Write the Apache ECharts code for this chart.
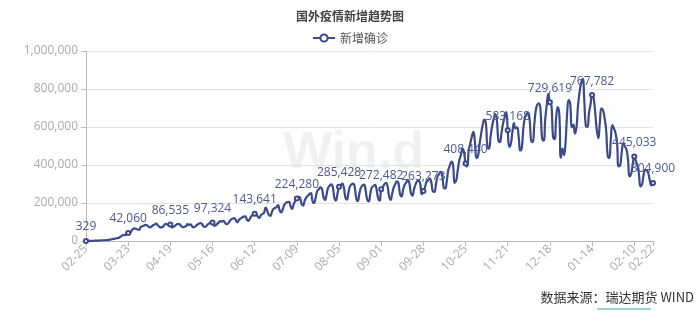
<!DOCTYPE html>
<html>
<head>
<meta charset="utf-8">
<script src="https://cdn.jsdelivr.net/npm/echarts@6/dist/echarts.min.js"></script>
<style>html,body{margin:0;padding:0;background:#fff}#c{width:700px;height:315px}</style>
</head>
<body>
<div id="c"></div>
<script>
var titleText = '国外疫情新增趋势图';
var seriesName = '新增确诊';
var sourceText = '数据来源：瑞达期货 WIND';

// daily categories 2020-02-25 .. 2021-02-22 (MM-DD)
var categories = [
'02-25','02-26','02-27','02-28','02-29','03-01','03-02','03-03','03-04','03-05','03-06','03-07','03-08','03-09',
'03-10','03-11','03-12','03-13','03-14','03-15','03-16','03-17','03-18','03-19','03-20','03-21','03-22','03-23',
'03-24','03-25','03-26','03-27','03-28','03-29','03-30','03-31','04-01','04-02','04-03','04-04','04-05','04-06',
'04-07','04-08','04-09','04-10','04-11','04-12','04-13','04-14','04-15','04-16','04-17','04-18','04-19','04-20',
'04-21','04-22','04-23','04-24','04-25','04-26','04-27','04-28','04-29','04-30','05-01','05-02','05-03','05-04',
'05-05','05-06','05-07','05-08','05-09','05-10','05-11','05-12','05-13','05-14','05-15','05-16','05-17','05-18',
'05-19','05-20','05-21','05-22','05-23','05-24','05-25','05-26','05-27','05-28','05-29','05-30','05-31','06-01',
'06-02','06-03','06-04','06-05','06-06','06-07','06-08','06-09','06-10','06-11','06-12','06-13','06-14','06-15',
'06-16','06-17','06-18','06-19','06-20','06-21','06-22','06-23','06-24','06-25','06-26','06-27','06-28','06-29',
'06-30','07-01','07-02','07-03','07-04','07-05','07-06','07-07','07-08','07-09','07-10','07-11','07-12','07-13',
'07-14','07-15','07-16','07-17','07-18','07-19','07-20','07-21','07-22','07-23','07-24','07-25','07-26','07-27',
'07-28','07-29','07-30','07-31','08-01','08-02','08-03','08-04','08-05','08-06','08-07','08-08','08-09','08-10',
'08-11','08-12','08-13','08-14','08-15','08-16','08-17','08-18','08-19','08-20','08-21','08-22','08-23','08-24',
'08-25','08-26','08-27','08-28','08-29','08-30','08-31','09-01','09-02','09-03','09-04','09-05','09-06','09-07',
'09-08','09-09','09-10','09-11','09-12','09-13','09-14','09-15','09-16','09-17','09-18','09-19','09-20','09-21',
'09-22','09-23','09-24','09-25','09-26','09-27','09-28','09-29','09-30','10-01','10-02','10-03','10-04','10-05',
'10-06','10-07','10-08','10-09','10-10','10-11','10-12','10-13','10-14','10-15','10-16','10-17','10-18','10-19',
'10-20','10-21','10-22','10-23','10-24','10-25','10-26','10-27','10-28','10-29','10-30','10-31','11-01','11-02',
'11-03','11-04','11-05','11-06','11-07','11-08','11-09','11-10','11-11','11-12','11-13','11-14','11-15','11-16',
'11-17','11-18','11-19','11-20','11-21','11-22','11-23','11-24','11-25','11-26','11-27','11-28','11-29','11-30',
'12-01','12-02','12-03','12-04','12-05','12-06','12-07','12-08','12-09','12-10','12-11','12-12','12-13','12-14',
'12-15','12-16','12-17','12-18','12-19','12-20','12-21','12-22','12-23','12-24','12-25','12-26','12-27','12-28',
'12-29','12-30','12-31','01-01','01-02','01-03','01-04','01-05','01-06','01-07','01-08','01-09','01-10','01-11',
'01-12','01-13','01-14','01-15','01-16','01-17','01-18','01-19','01-20','01-21','01-22','01-23','01-24','01-25',
'01-26','01-27','01-28','01-29','01-30','01-31','02-01','02-02','02-03','02-04','02-05','02-06','02-07','02-08',
'02-09','02-10','02-11','02-12','02-13','02-14','02-15','02-16','02-17','02-18','02-19','02-20','02-21','02-22'
];

var newCases = [
329,460,620,880,1120,1250,1690,
2010,2230,2650,3810,3900,4010,4250,
4840,7020,8010,10150,11230,13280,15360,
16420,22180,27350,32140,31280,34650,42060,
41230,51460,62380,66120,64350,60180,58960,
73420,77350,80160,85240,83410,76280,71350,
76420,83150,87260,91380,82450,75160,71240,
73580,83210,90150,86420,82360,86535,72150,
75230,80410,86320,90150,88260,78140,72350,
75180,78260,88350,85140,87420,76280,72150,
76380,85420,89160,94230,92150,79340,74260,
78150,87320,94260,98150,97324,80260,82340,
90150,98340,104260,102380,106420,96150,88260,
92350,104260,114380,118150,120340,108260,98420,
112350,118420,124150,128360,130260,112480,106350,
118420,132150,136280,143641,140260,128350,122180,
136150,142380,148260,176420,160150,138260,132480,
152360,168420,174150,178360,188420,160250,150180,
168350,190260,200150,205480,206230,182150,168420,
194260,210380,224280,232150,228420,196350,186240,
212450,228160,238420,246350,252180,210260,200150,
228350,262180,272460,282150,276420,232150,216480,
244360,280150,290420,298260,284150,228360,212480,
248150,285428,294260,302180,284350,232150,218260,
252480,288150,298260,302480,286150,226340,210260,
248160,280350,292180,296240,268150,218360,208150,
248260,282180,288350,296150,272480,226350,212180,
272482,284150,298260,306180,290150,236480,216350,
248180,282460,298150,314260,306180,248150,234260,
268350,296180,306420,322150,304260,252180,238460,
272150,298460,314260,318150,298420,246180,263273,
282460,312150,318420,330260,312180,262480,258150,
296180,338460,352150,364280,350420,282150,276480,
318260,376150,398420,418160,400350,306180,318260,
372150,424360,452180,486420,468150,408440,392180,
474260,512180,548350,574260,520150,436180,448260,
512460,566180,612350,638420,620150,498260,486350,
548180,604260,642350,668480,640150,532180,520350,
568260,618350,650180,678420,583168,496260,512180,
574180,620350,592260,598480,548150,476260,492180,
594350,648260,668420,676180,640350,528180,520460,
612180,690350,718260,724420,688150,538260,528180,
640420,718260,774350,729619,712180,548260,536180,
648350,704180,668420,438260,486180,452350,518260,
668420,742180,720350,598260,612180,566350,598420,
712180,782350,832460,853180,742260,604180,600260,
672350,718260,767782,752180,676420,584260,540180,
628350,698260,688180,646420,584260,448180,437260,
536180,609350,592260,568420,512180,392260,398180,
468260,515180,498350,482260,428180,340260,352180,
402350,445033,422180,398260,352180,287260,298350,
348180,374260,372180,356420,318260,292180,304900
];

var yTicks = [0, 200000, 400000, 600000, 800000, 1000000];

function fmt(v){ return Number(v).toLocaleString('en-US'); }

var chart = echarts.init(document.getElementById('c'), null, {renderer:'canvas'});
var lineColor = '#3a4a8b';
chart.setOption({
  animation: false,
  backgroundColor: '#fff',
  title: {
    text: titleText, left: 'center', top: 5,
    textStyle: {fontSize: 12, fontWeight: 'bold', color: '#444', fontFamily: 'Noto Sans CJK SC'}
  },
  legend: {
    data: [seriesName], top: 27, left: 'center',
    itemWidth: 22, itemHeight: 9,
    textStyle: {fontSize: 12, color: '#555', fontFamily: 'Noto Sans CJK SC'}
  },
  graphic: [
    {type: 'text', left: 283, top: 128, silent: true, z: -1,
     style: {text: 'Win.d', fontSize: 52, fontWeight: 'bold', fontFamily: 'Liberation Sans', fill: 'rgba(0,0,0,0.055)'}},
    {type: 'text', right: 6, top: 291,
     style: {text: sourceText, fontSize: 13, fill: '#333', fontFamily: 'Noto Sans CJK SC'}},
    {type: 'line', shape: {x1: 597, y1: 309, x2: 651, y2: 309},
     style: {stroke: '#33aaaa', lineWidth: 1}}
  ],
  grid: {left: 86, right: 47, top: 51, bottom: 74, containLabel: false},
  xAxis: {
    type: 'category', data: categories, boundaryGap: false,
    axisLine: {lineStyle: {color: '#bbb'}},
    axisTick: {show: true, interval: 26, lineStyle: {color: '#bbb'}},
    axisLabel: {interval: 26, showMaxLabel: true, rotate: 45, color: '#aaa', fontSize: 12, margin: 6, fontFamily: 'Open Sans'}
  },
  yAxis: {
    type: 'value', min: 0, max: 1000000, interval: 200000,
    axisLine: {show: true, lineStyle: {color: '#bbb'}},
    axisTick: {show: true, lineStyle: {color: '#bbb'}},
    splitLine: {lineStyle: {color: '#e3e3e3'}},
    axisLabel: {color: '#aaa', fontSize: 12, fontFamily: 'Open Sans', formatter: function(v){ return fmt(v); }}
  },
  series: [{
    name: seriesName, type: 'line', data: newCases,
    smooth: true, symbol: 'emptyCircle', symbolSize: 4, showAllSymbol: 'auto',
    lineStyle: {color: lineColor, width: 2.2},
    itemStyle: {color: lineColor, borderWidth: 1},
    label: {show: true, position: 'top', color: '#4a5a90', fontSize: 12, fontFamily: 'Open Sans',
            formatter: function(p){ return fmt(p.value); }}
  }]
});
</script>
</body>
</html>
